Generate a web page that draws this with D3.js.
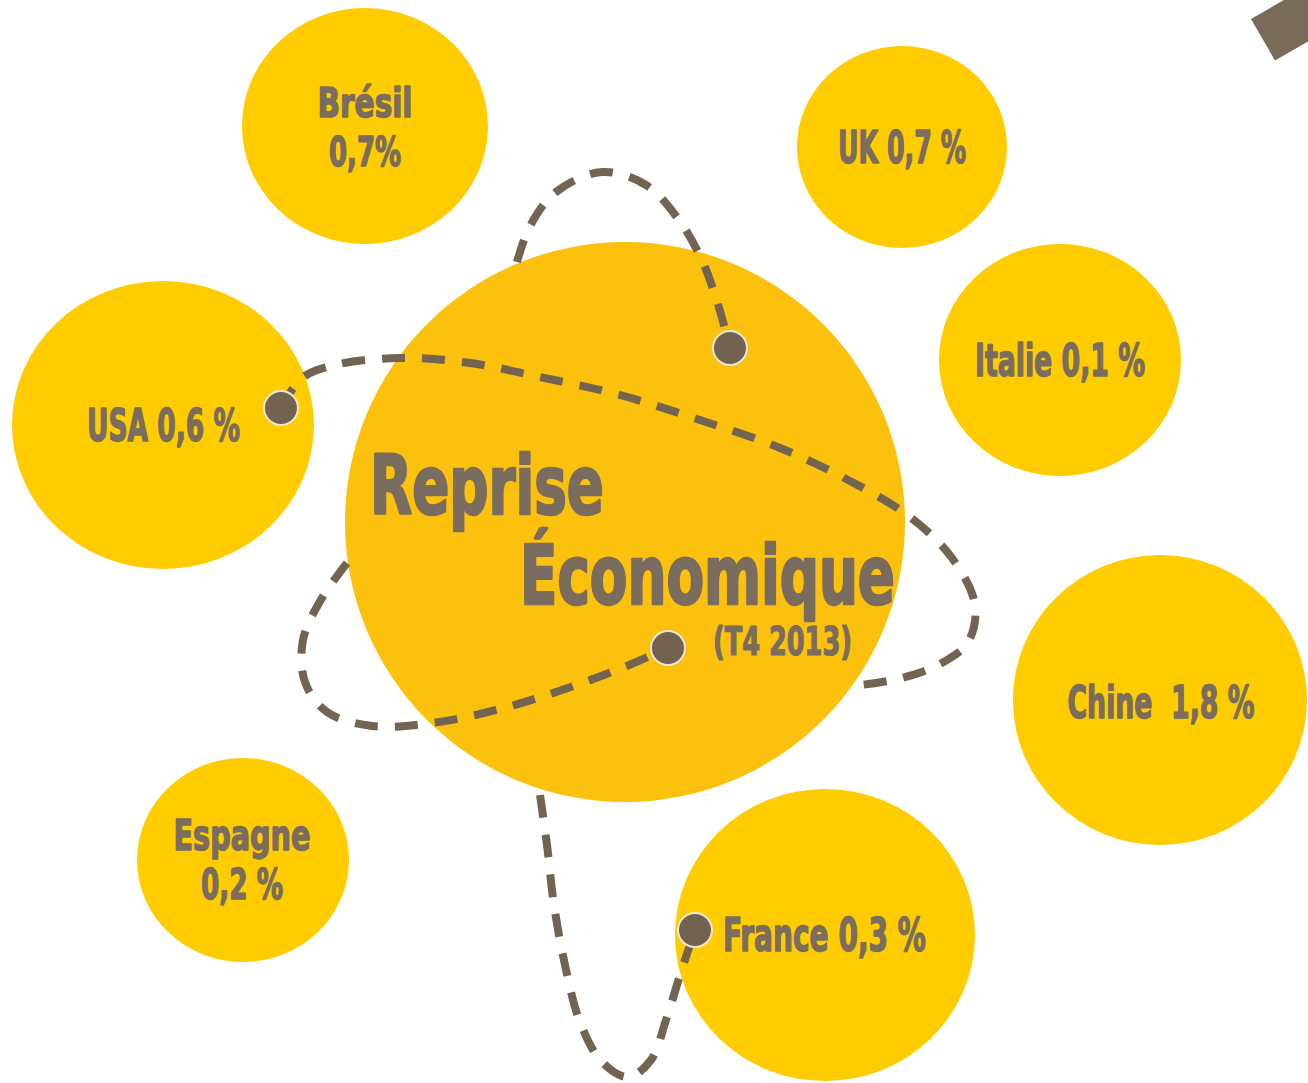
<!DOCTYPE html>
<html>
<head>
<meta charset="utf-8">
<script src="https://cdn.jsdelivr.net/npm/d3@7"></script>
<style>
  html, body { margin: 0; padding: 0; background: #fff; }
  svg { display: block; }
</style>
</head>
<body>
<script>
    'use strict';

    // values
    var countries = ['Brésil', 'UK', 'Italie', 'USA', 'Chine', 'Espagne', 'France'];
    var growth = [0.7, 0.7, 0.1, 0.6, 1.8, 0.2, 0.3];
    var labelLines = [
        ['Brésil', '0,7%'],
        ['UK 0,7 %'],
        ['Italie 0,1 %'],
        ['USA 0,6 %'],
        ['Chine  1,8 %'],
        ['Espagne', '0,2 %'],
        ['France 0,3 %']
    ];
    var titleLines = ['Reprise', 'Économique', '(T4 2013)'];

    // layout of the bubbles (not data)
    var bubbleLayout = [
        {cx: 365, cy: 126, rx: 123, ry: 118, tx: 365, ty: [117, 166], fs: 41, tl: [95, 72], anchor: 'middle'},
        {cx: 902, cy: 147, rx: 105, ry: 101, tx: 902, ty: [163], fs: 44, tl: [128], anchor: 'middle'},
        {cx: 1060, cy: 360, rx: 121, ry: 116, tx: 1060, ty: [376], fs: 44, tl: [170], anchor: 'middle'},
        {cx: 163, cy: 425, rx: 151, ry: 144, tx: 163.5, ty: [441], fs: 44, tl: [153], anchor: 'middle'},
        {cx: 1160, cy: 700, rx: 147, ry: 145, tx: 1161, ty: [718], fs: 44, tl: [187], anchor: 'middle'},
        {cx: 243, cy: 860, rx: 106, ry: 102, tx: 242, ty: [850, 899], fs: 42, tl: [137, 82], anchor: 'middle'},
        {cx: 825, cy: 935, rx: 150, ry: 146, tx: 723, ty: [951], fs: 46, tl: [203], anchor: 'start'}
    ];
    var sphere = {cx: 625, cy: 522, r: 280};
    var titleLayout = [
        {x: 370, y: 514, fs: 82, tl: 234},
        {x: 520, y: 604, fs: 82, tl: 375},
        {x: 713, y: 655, fs: 39, tl: 139}
    ];

    // visible parts of the dashed orbits
    var orbits = [
        [[281, 408], [302, 378], [335, 365], [400, 358], [470, 363], [540, 377], [620, 395], [700, 420],
         [780, 448], [850, 481], [910, 517], [952, 558], [975, 605], [968, 642], [938, 665], [898, 679], [852, 686]],
        [[347, 563], [322, 598], [303, 640], [305, 682], [327, 712], [372, 726], [432, 723], [500, 709],
         [562, 690], [622, 668], [668, 648]],
        [[517, 262], [530, 226], [556, 192], [602, 172], [646, 185], [676, 216], [700, 256], [716, 298], [730, 348]],
        [[540, 795], [547, 845], [554, 905], [565, 965], [580, 1022], [602, 1062], [628, 1077], [651, 1060],
         [666, 1020], [681, 972], [695, 930]]
    ];
    var dots = [[281, 408], [730, 348], [668, 648], [695, 930]];

    var W = 1308, H = 1083;
    var TEXT = '#7a6c5e';
    var BROWN = '#736452';
    var FONT = "'Liberation Sans Narrow', 'DejaVu Sans Condensed', 'Arial Narrow', sans-serif";

    var svg = d3.select('body').append('svg')
        .attr('width', W)
        .attr('height', H);

    // decorative tilted square top right
    svg.append('rect')
        .attr('x', 0).attr('y', 0)
        .attr('width', 120).attr('height', 48)
        .attr('fill', '#7a6a58')
        .attr('transform', 'translate(1251,19) rotate(-30)');

    var bubbles = bubbleLayout.map(function (d, i) {
        return Object.assign({name: countries[i], value: growth[i], lines: labelLines[i]}, d);
    });

    svg.selectAll('ellipse.bubble')
        .data(bubbles)
        .enter().append('ellipse')
        .attr('class', 'bubble')
        .attr('cx', function (d) { return d.cx; })
        .attr('cy', function (d) { return d.cy; })
        .attr('rx', function (d) { return d.rx; })
        .attr('ry', function (d) { return d.ry; })
        .attr('fill', '#ffcc00');

    svg.append('circle')
        .attr('cx', sphere.cx)
        .attr('cy', sphere.cy)
        .attr('r', sphere.r)
        .attr('fill', '#fcc10d');

    var line = d3.line().curve(d3.curveCatmullRom.alpha(0.5));

    svg.selectAll('path.orbit')
        .data(orbits)
        .enter().append('path')
        .attr('class', 'orbit')
        .attr('d', line)
        .attr('fill', 'none')
        .attr('stroke', BROWN)
        .attr('stroke-width', 8)
        .attr('stroke-dasharray', '23,17');

    svg.selectAll('circle.dot')
        .data(dots)
        .enter().append('circle')
        .attr('class', 'dot')
        .attr('cx', function (d) { return d[0]; })
        .attr('cy', function (d) { return d[1]; })
        .attr('r', 17)
        .attr('fill', '#726350')
        .attr('stroke', '#efe6d6')
        .attr('stroke-width', 2);

    // bubble labels, stroked a little to get an Impact-like weight
    bubbles.forEach(function (b) {
        b.lines.forEach(function (txt, j) {
            svg.append('text')
                .attr('x', b.tx)
                .attr('y', b.ty[j])
                .attr('text-anchor', b.anchor)
                .attr('font-family', FONT)
                .attr('font-weight', 'bold')
                .attr('font-size', b.fs)
                .attr('textLength', b.tl[j])
                .attr('lengthAdjust', 'spacingAndGlyphs')
                .attr('fill', TEXT)
                .attr('stroke', TEXT)
                .attr('stroke-width', 1.4)
                .attr('stroke-linejoin', 'round')
                .attr('xml:space', 'preserve')
                .text(txt);
        });
    });

    svg.selectAll('text.title')
        .data(titleLines)
        .enter().append('text')
        .attr('class', 'title')
        .attr('x', function (d, i) { return titleLayout[i].x; })
        .attr('y', function (d, i) { return titleLayout[i].y; })
        .attr('font-family', FONT)
        .attr('font-weight', 'bold')
        .attr('font-size', function (d, i) { return titleLayout[i].fs; })
        .attr('textLength', function (d, i) { return titleLayout[i].tl; })
        .attr('lengthAdjust', 'spacingAndGlyphs')
        .attr('fill', TEXT)
        .attr('stroke', TEXT)
        .attr('stroke-width', function (d, i) { return i < 2 ? 2.5 : 1.2; })
        .attr('stroke-linejoin', 'round')
        .text(function (d) { return d; });
</script>
</body>
</html>
